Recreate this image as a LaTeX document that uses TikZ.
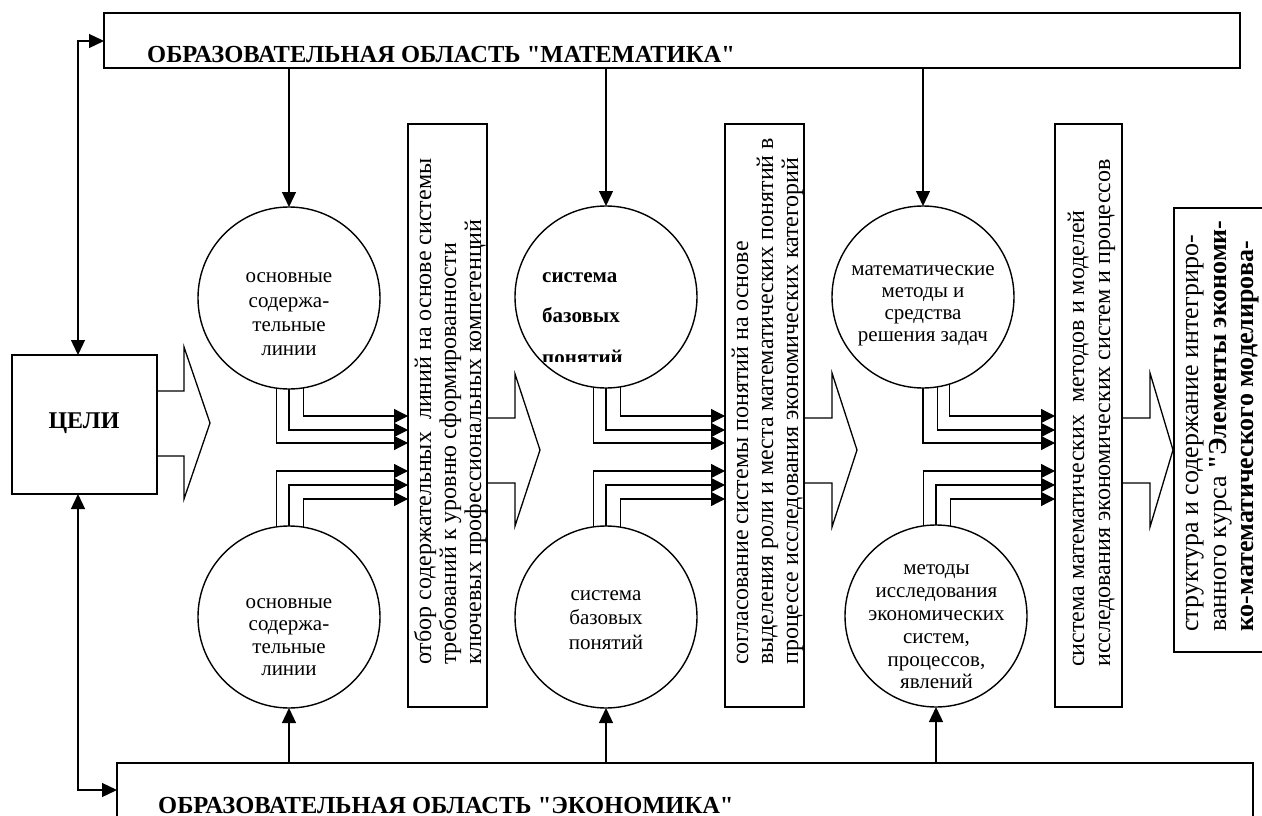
\documentclass[tikz,border=0pt]{standalone}
\usepackage{fontspec}
\setmainfont{Liberation Serif}
\newfontfamily\qf{Liberation Serif}
\usetikzlibrary{arrows.meta}
\begin{document}
\begin{tikzpicture}[x=1pt,y=-1pt,
  frame/.style={draw, line width=1.7pt, inner sep=0pt, outer sep=0pt},
  ring/.style={circle, draw, line width=1.4pt, minimum size=182pt, inner sep=0pt, outer sep=0pt},
  feed/.style={line width=1.3pt, -{Triangle[length=15pt,width=14pt]}},
  feedboth/.style={line width=1.3pt, {Triangle[length=15pt,width=14pt]}-{Triangle[length=15pt,width=14pt]}},
  trip/.style={line width=1.3pt, -{Triangle[length=14pt,width=14pt]}},
  blockarr/.style={line width=1.3pt, line join=miter},
  ctext/.style={font=\fontsize{21}{23.5}\selectfont, align=center, inner sep=0pt},
  btext/.style={font=\bfseries\fontsize{21}{24}\selectfont, anchor=base west, inner sep=0pt},
  vtext/.style={font=\fontsize{24}{25}\selectfont, rotate=90, anchor=base west, inner sep=0pt},
  wtext/.style={font=\fontsize{26}{27}\selectfont, rotate=90, anchor=base west, inner sep=0pt},
  ttl/.style={font=\bfseries\fontsize{24.5}{28}\selectfont, anchor=base west, inner sep=0pt}]
\useasboundingbox (0,0) rectangle (1262,816);
\fill[white] (0,0) rectangle (1262,816);

% frames
\node[frame, anchor=north west, minimum width=1136pt, minimum height=55pt] (math) at (104,13) {};
\node[ttl] (mathT) at (147,63) {ОБРАЗОВАТЕЛЬНАЯ ОБЛАСТЬ {\qf"}МАТЕМАТИКА{\qf"}};
\node[frame, anchor=north west, minimum width=1136pt, minimum height=120pt] (econ) at (117,763) {};
\node[ttl] (econT) at (158,813) {ОБРАЗОВАТЕЛЬНАЯ ОБЛАСТЬ {\qf"}ЭКОНОМИКА{\qf"}};
\node[frame, anchor=north west, minimum width=145pt, minimum height=139pt] (celi) at (12,355) {};
\node[font=\bfseries\fontsize{24}{26}\selectfont, inner sep=0pt] (celiT) at (84,423) {ЦЕЛИ};

\node[frame, anchor=north west, minimum width=79pt, minimum height=583pt] (b1) at (408,124) {};
\node[frame, anchor=north west, minimum width=79pt, minimum height=583pt] (b2) at (725,124) {};
\node[frame, anchor=north west, minimum width=67pt, minimum height=583pt] (b3) at (1055,124) {};
\node[frame, anchor=north west, minimum width=150pt, minimum height=444pt] (b4) at (1174,208) {};

% rotated texts
\node[vtext] (b1t1) at (431,665) {отбор содержательных\ \ линий на основе системы};
\node[vtext] (b1t2) at (456,665) {требований к уровню сформированности};
\node[vtext] (b1t3) at (481,665) {ключевых профессиональных компетенций};
\node[vtext] (b2t1) at (748,665) {согласование системы понятий на основе};
\node[vtext] (b2t2) at (773,665) {выделения роли и места математических понятий в};
\node[vtext] (b2t3) at (798,665) {процессе исследования экономических категорий};
\node[vtext] (b3t1) at (1084,667) {система математических\ \ методов и моделей};
\node[vtext] (b3t2) at (1110,667) {исследования экономических систем и процессов};
\node[wtext] (b4t1) at (1198,632) {структура и содержание интегриро-};
\node[wtext] (b4t2) at (1226,632) {ванного курса {\bfseries{\qf"}Элементы экономи-}};
\node[wtext] (b4t3) at (1253,632) {\bfseries ко-математического моделирова-};

% circles
\node[ring] (c1) at (289,298) {};
\node[ring] (c2) at (289,617) {};
\node[ring] (c3) at (606,297) {};
\node[ring] (c4) at (606,617) {};
\node[ring] (c5) at (923,297) {};
\node[ring] (c6) at (936,616) {};

\node[ctext, font=\fontsize{21}{24.3}\selectfont] (c1T) at (289,314.5) {основные\\содержа-\\тельные\\линии};
\node[ctext, font=\fontsize{21}{22.5}\selectfont] (c2T) at (289,637) {основные\\содержа-\\тельные\\линии};
\begin{scope}
  \clip (520,250) rectangle (700,361);
  \node[btext] (c3a) at (542,282) {система};
  \node[btext] (c3b) at (542,322) {базовых};
  \node[btext] (c3c) at (542,364) {понятий};
\end{scope}
\node[ctext, font=\fontsize{21}{24.5}\selectfont] (c4T) at (606,620) {система\\базовых\\понятий};
\node[ctext, font=\fontsize{21}{22}\selectfont] (c5T) at (923,306) {математические\\методы и\\средства\\решения задач};
\begin{scope}
  \clip (936,616) circle (91);
  \node[ctext, font=\fontsize{21}{22.8}\selectfont] (c6T) at (936.5,627) {методы\\исследования\\экономических\\систем,\\процессов,\\явлений};
\end{scope}

% feedback arrows
\draw[feedboth] (celi.north -| 78,0) |- (math.west |- 0,41);
\draw[feedboth] (celi.south -| 78,0) |- (econ.west |- 0,790);

% vertical arrows
\draw[feed] (c1.north |- math.south) -- (c1.north);
\draw[feed] (c3.north |- math.south) -- (c3.north);
\draw[feed] (c5.north |- math.south) -- (c5.north);
\draw[feed] (c2.south |- econ.north) -- (c2.south);
\draw[feed] (c4.south |- econ.north) -- (c4.south);
\draw[feed] (c6.south |- econ.north) -- (c6.south);

% triple connectors
\draw[trip] (c1.-98.2) |- (b1.west |- 0,443);
\draw[trip] (c1.-90) |- (b1.west |- 0,430);
\draw[trip] (c1.-81.8) |- (b1.west |- 0,416);
\draw[trip] (c2.98.2) |- (b1.west |- 0,471);
\draw[trip] (c2.90) |- (b1.west |- 0,485);
\draw[trip] (c2.81.8) |- (b1.west |- 0,499);

\draw[trip] (c3.-98.2) |- (b2.west |- 0,443);
\draw[trip] (c3.-90) |- (b2.west |- 0,430);
\draw[trip] (c3.-81.8) |- (b2.west |- 0,416);
\draw[trip] (c4.98.2) |- (b2.west |- 0,471);
\draw[trip] (c4.90) |- (b2.west |- 0,485);
\draw[trip] (c4.81.8) |- (b2.west |- 0,499);

\draw[trip] (c5.-90) |- (b3.west |- 0,443);
\draw[trip] (c5.-81.8) |- (b3.west |- 0,430);
\draw[trip] (c5.-73.4) |- (b3.west |- 0,416);
\draw[trip] (c6.98.2) |- (b3.west |- 0,471);
\draw[trip] (c6.90) |- (b3.west |- 0,485);
\draw[trip] (c6.81.8) |- (b3.west |- 0,499);

% block arrows
\draw[blockarr] (celi.east |- 0,391) -- (184,391) -- (184,347) -- (210,423) -- (184,499) -- (184,456) -- (celi.east |- 0,456);
\draw[blockarr] (b1.east |- 0,418) -- (515,418) -- (515,374) -- (540,450) -- (515,526) -- (515,483) -- (b1.east |- 0,483);
\draw[blockarr] (b2.east |- 0,418) -- (832,418) -- (832,373) -- (857,450) -- (832,527) -- (832,483) -- (b2.east |- 0,483);
\draw[blockarr] (b3.east |- 0,418) -- (1150,418) -- (1150,373) -- (1173,450) -- (1150,527) -- (1150,483) -- (b3.east |- 0,483);
\end{tikzpicture}
\end{document}
